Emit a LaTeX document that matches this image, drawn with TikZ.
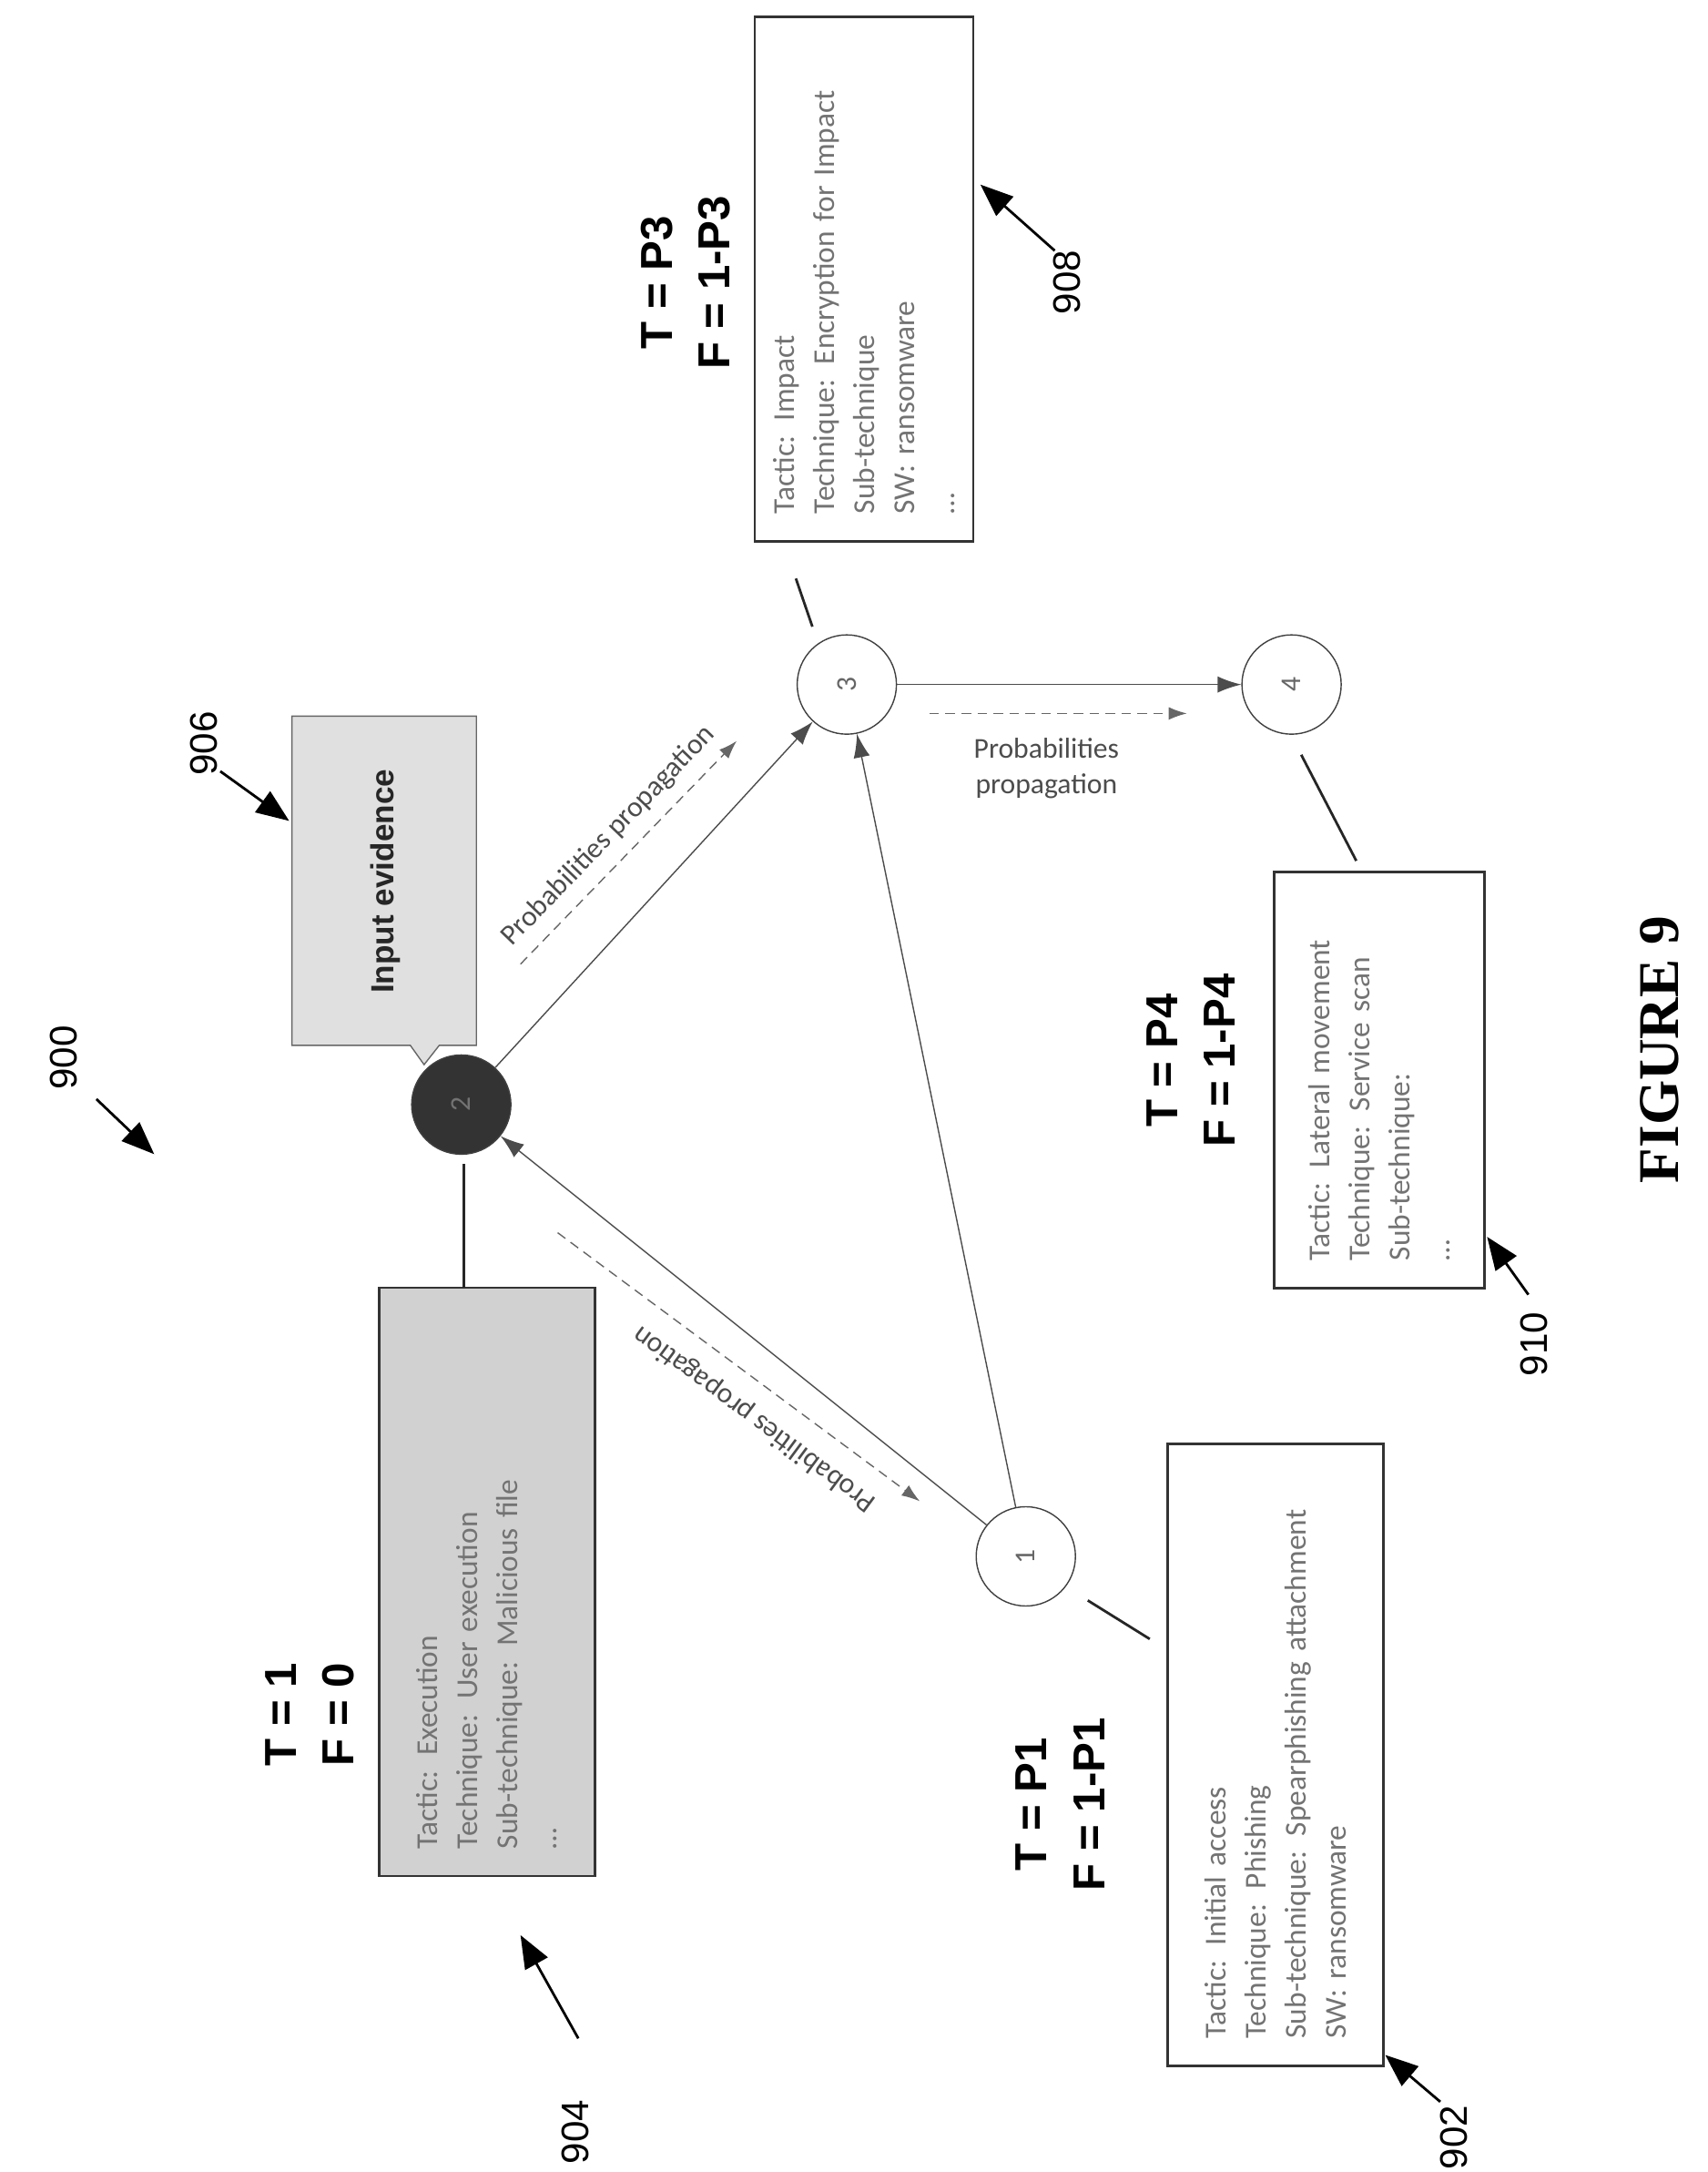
\documentclass[tikz,border=0pt]{standalone}
\usepackage{fontspec}
\setmainfont{Liberation Sans}
\newfontfamily\boxfont{Carlito}
\newfontfamily\figfont{Liberation Serif}
\usetikzlibrary{arrows.meta}
\begin{document}
\begin{tikzpicture}[
    x=0.01512cm, y=-0.01512cm,
    every node/.style={align=center},
    state/.style={draw=black!75, circle, minimum size=1.09cm, inner sep=0pt, font=\boxfont\small, text=black!60},
    info box/.style={draw=black!80, thick, rotate=90, align=left, inner xsep=0.3cm, font=\boxfont\fontsize{9.5}{12.5}\selectfont, text=black!55},
    edge/.style={draw=black!70, -{Latex[length=2.6mm,width=1.8mm]}},
    prop arrow/.style={draw=black!60, densely dashed, -{Latex[length=2mm,width=1.4mm]}},
    prop label/.style={font=\boxfont\fontsize{9}{11}\selectfont, text=black!70},
    tie line/.style={draw=black!85, thick},
    truth/.style={rotate=90, font=\bfseries\fontsize{14}{18}\selectfont},
    ref num/.style={rotate=90, font=\fontsize{12}{14}\selectfont},
    ref arrow/.style={draw, thick, -{Triangle[length=3.6mm,width=2.8mm]}},
    ]
\useasboundingbox (0,0) rectangle (1240,1577);
% states
\node[state] (n1) at (745,1130) {\rotatebox{90}{1}};
\node[state, fill=black!80, text=black!55] (n2) at (335,802) {\rotatebox{90}{2}};
\node[state] (n3) at (615,497) {\rotatebox{90}{3}};
\node[state] (n4) at (938,497) {\rotatebox{90}{4}};
\draw[edge] (n1) -- (n2);
\draw[edge] (n1) -- (n3);
\draw[edge] (n2) -- (n3);
\draw[edge] (n3) -- (n4);
% propagation
\coordinate (p1a) at (405,895); \coordinate (p1b) at (668,1090);
\coordinate (p2a) at (378,700); \coordinate (p2b) at (535,538);
\coordinate (p3a) at (675,518); \coordinate (p3b) at (862,518);
\draw[prop arrow] (p1a) -- (p1b);
\draw[prop arrow] (p2a) -- (p2b);
\draw[prop arrow] (p3a) -- (p3b);
\node[prop label, rotate=143.5] (pp1) at (548,1030) {Probabilities propagation};
\node[prop label, rotate=46] (pp2) at (442,607) {Probabilities propagation};
\node[prop label] (pp3) at (760,558) {Probabilities\\propagation};
% boxes
\node[info box, minimum width=6.83cm, minimum height=2.37cm, text width=6.23cm] (b902) at (926.5,1274)
  {Tactic: Initial access\\Technique: Phishing\\Sub-technique: Spearphishing attachment\\SW: ransomware};
\node[info box, fill=black!18, minimum width=6.46cm, minimum height=2.37cm, text width=5.86cm] (b904) at (353.5,1148.5)
  {Tactic: Execution\\Technique: User execution\\Sub-technique: Malicious file\\\dots};
\node[info box, minimum width=5.76cm, minimum height=2.40cm, text width=5.16cm] (b908) at (627.5,202.5)
  {Tactic: Impact\\Technique: Encryption for Impact\\Sub-technique\\SW: ransomware\\\dots};
\node[info box, minimum width=4.57cm, minimum height=2.31cm, text width=3.97cm] (b910) at (1001.5,784)
  {Tactic: Lateral movement\\Technique: Service scan\\Sub-technique:\\\dots};
% callout
\draw[draw=black!60, fill=black!12] (212,520) -- (346,520) -- (346,759) -- (319,759) -- (308,773)
  -- (298,759) -- (212,759) -- cycle;
\node[rotate=90, font=\bfseries\fontsize{10}{12}\selectfont, text=black!85] (ev) at (280,640) {Input evidence};
% ties
\coordinate (t1a) at (790,1162); \coordinate (t1b) at (835,1190);
\coordinate (t2a) at (337,845); \coordinate (t2b) at (337,935);
\coordinate (t3a) at (578,420); \coordinate (t3b) at (590,455);
\coordinate (t4a) at (945,548); \coordinate (t4b) at (985,625);
\draw[tie line] (t1a) -- (t1b);
\draw[tie line] (t2a) -- (t2b);
\draw[tie line] (t3a) -- (t3b);
\draw[tie line] (t4a) -- (t4b);
% truth values
\node[truth] (v2) at (225,1245) {T = 1\\F = 0};
\node[truth] (v1) at (770,1310) {T = P1\\F = 1-P1};
\node[truth] (v3) at (498,205) {T = P3\\F = 1-P3};
\node[truth] (v4) at (865,770) {T = P4\\F = 1-P4};
% reference numerals
\node[ref num] (r900) at (46,768) {900};
\coordinate (a900) at (112,838);
\draw[ref arrow] (70,798) -- (a900);
\node[ref num] (r902) at (1056,1552) {902};
\coordinate (a902) at (1006,1492);
\draw[ref arrow] (1046,1526) -- (a902);
\node[ref num] (r904) at (418,1548) {904};
\coordinate (a904) at (378,1405);
\draw[ref arrow] (420,1480) -- (a904);
\node[ref num] (r906) at (148,540) {906};
\coordinate (a906) at (210,596);
\draw[ref arrow] (160,560) -- (a906);
\node[ref num] (r908) at (775,205) {908};
\coordinate (a908) at (712,134);
\draw[ref arrow] (766,182) -- (a908);
\node[ref num] (r910) at (1114,976) {910};
\coordinate (a910) at (1080,898);
\draw[ref arrow] (1110,940) -- (a910);
\node[rotate=90, font=\figfont\bfseries\fontsize{18}{20}\selectfont] (fig) at (1205,762) {FIGURE 9};
\end{tikzpicture}
\end{document}
